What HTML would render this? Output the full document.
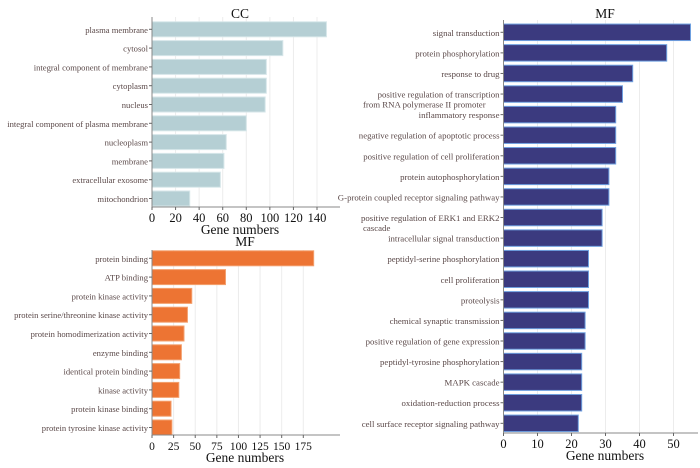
<!DOCTYPE html>
<html><head><meta charset="utf-8"><style>
html,body{margin:0;padding:0;background:#fff;}
svg{display:block;font-family:"Liberation Serif",serif;}
</style></head><body>
<svg id="c" width="700" height="468" viewBox="0 0 700 468"></svg>
<script>
const ccCategories=["plasma membrane","cytosol","integral component of membrane","cytoplasm","nucleus","integral component of plasma membrane","nucleoplasm","membrane","extracellular exosome","mitochondrion"];
const ccValues=[148,111,97,97,96,80,63,61,58,32];
const ccTicks=[0,20,40,60,80,100,120,140];
const mfCategories=["protein binding","ATP binding","protein kinase activity","protein serine/threonine kinase activity","protein homodimerization activity","enzyme binding","identical protein binding","kinase activity","protein kinase binding","protein tyrosine kinase activity"];
const mfValues=[187,85,46,41,37,34,32,31,22,23];
const mfTicks=[0,25,50,75,100,125,150,175];
const bpCategories=["signal transduction","protein phosphorylation","response to drug","positive regulation of transcription|from RNA polymerase II promoter","inflammatory response","negative regulation of apoptotic process","positive regulation of cell proliferation","protein autophosphorylation","G-protein coupled receptor signaling pathway","positive regulation of ERK1 and ERK2|cascade","intracellular signal transduction","peptidyl-serine phosphorylation","cell proliferation","proteolysis","chemical synaptic transmission","positive regulation of gene expression","peptidyl-tyrosine phosphorylation","MAPK cascade","oxidation-reduction process","cell surface receptor signaling pathway"];
const bpValues=[55,48,38,35,33,33,33,31,31,29,29,25,25,25,24,24,23,23,23,22];
const bpTicks=[0,10,20,30,40,50];

const svg=document.getElementById('c');
const NS='http://www.w3.org/2000/svg';
function mk(tag,attrs,parent){const e=document.createElementNS(NS,tag);for(const k in attrs)e.setAttribute(k,attrs[k]);(parent||svg).appendChild(e);return e;}

function chart(o){
  const g=mk('g',{});
  
  
  const xs=v=>o.x0+v*o.scale;
  const ys=i=>o.yFirst+i*o.step;
  o.ticks.forEach(t=>{const l=mk('line',{x1:xs(t),x2:xs(t),y1:o.top,y2:o.axisY,stroke:'#ececec','stroke-width':1},g);
    });
  o.vals.forEach((v,i)=>{const r=mk('rect',{x:o.x0,y:ys(i)-o.bh/2,width:xs(v)-o.x0,height:o.bh,fill:o.color,stroke:o.edge,'stroke-width':1},g);
    });
  const ya=mk('line',{x1:o.x0,x2:o.x0,y1:o.top,y2:o.axisY,stroke:'#888','stroke-width':1},g);
  
  const xa=mk('line',{x1:o.x0,x2:o.right,y1:o.axisY,y2:o.axisY,stroke:'#888','stroke-width':1},g);
  
  o.cats.forEach((c,i)=>{
    const y=ys(i);
    mk('line',{x1:o.x0-3,x2:o.x0,y1:y,y2:y,stroke:'#666'},g);
    const parts=c.split('|');
    if(parts.length===1){
      const t=mk('text',{x:o.x0-4,y:y+3.5,'text-anchor':'end','font-size':o.fs,fill:'#5a4848'},g);
      t.textContent=c;
    }else{
      const t1=mk('text',{x:o.x0-4,y:y+3.5,'text-anchor':'end','font-size':o.fs,fill:'#5a4848'},g);
      t1.textContent=parts[0];
      const t2=mk('text',{x:o.wrapX,y:y+13.5,'font-size':o.fs,fill:'#5a4848'},g);
      t2.textContent=parts[1];
    }
  });
  o.ticks.forEach(t=>{
    mk('line',{x1:xs(t),x2:xs(t),y1:o.axisY,y2:o.axisY+3,stroke:'#666'},g);
    const tx=mk('text',{x:xs(t),y:o.axisY+15,'text-anchor':'middle','font-size':o.tfs,fill:'#111'},g);
    tx.textContent=t;
  });
  const xt=mk('text',{x:o.titleX,y:o.axisY+27,'text-anchor':'middle','font-size':13.5,fill:'#111'},g);
  xt.textContent='Gene numbers';
  const tt=mk('text',{x:o.titleX,y:o.titleY,'text-anchor':'middle','font-size':13.5,fill:'#111'},g);
  tt.textContent=o.title;
}
chart({name:'cc-chart',title:'CC',cats:ccCategories,vals:ccValues,ticks:ccTicks,x0:152,scale:165/140,top:17,axisY:207,yFirst:29.3,step:18.8,bh:15,right:340,color:'#b5cfd4',edge:'#d6e6e9',fs:8.6,tfs:12.5,titleX:240,titleY:18});
chart({name:'mf-left-chart',title:'MF',cats:mfCategories,vals:mfValues,ticks:mfTicks,x0:152,scale:151.3/175,top:250,axisY:435,yFirst:258.3,step:18.8,bh:15,right:340,color:'#ed7433',edge:'#f3a06e',fs:8.6,tfs:11.5,titleX:245,titleY:246});
chart({name:'mf-right-chart',title:'MF',cats:bpCategories,vals:bpValues,ticks:bpTicks,x0:503.5,scale:170/50,top:20,axisY:433,yFirst:32.3,step:20.58,bh:16.5,right:698,color:'#3b3a7f',edge:'#6fa0e0',fs:8.8,tfs:12.5,wrapX:363,titleX:605,titleY:18});
</script>
</body></html>
